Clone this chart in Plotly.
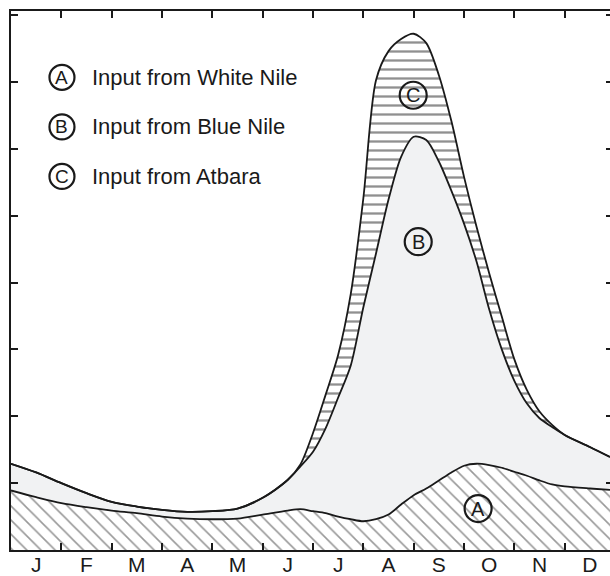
import plotly.graph_objects as go

# Month position (0 = start of January, 12 = end of December)
months = [0, 0.5, 1, 1.5, 2, 2.5, 3, 3.5, 4, 4.5, 5, 5.5, 5.75, 6, 6.25, 6.5, 6.75,
          7, 7.25, 7.5, 7.75, 8, 8.25, 8.5, 8.75, 9, 9.25, 9.5, 9.75, 10, 10.25,
          10.5, 10.75, 11, 11.5, 11.9]

# Input from White Nile (A)
white_nile = [0.89, 0.79, 0.70, 0.64, 0.59, 0.55, 0.50, 0.47, 0.46, 0.47, 0.53, 0.59,
              0.61, 0.58, 0.55, 0.50, 0.46, 0.43, 0.46, 0.53, 0.68, 0.82, 0.92, 1.04,
              1.16, 1.26, 1.29, 1.27, 1.23, 1.17, 1.11, 1.04, 0.98, 0.95, 0.92, 0.90]

# Input from Blue Nile (B)
blue_nile = [0.40, 0.37, 0.30, 0.21, 0.13, 0.10, 0.10, 0.10, 0.12, 0.15, 0.25, 0.46,
             0.64, 0.89, 1.27, 1.78, 2.30, 3.20, 3.97, 4.71, 5.20, 5.36, 5.21, 4.77,
             4.21, 3.62, 3.02, 2.33, 1.77, 1.36, 1.08, 0.93, 0.86, 0.77, 0.62, 0.49]

# Input from Atbara (C)
atbara = [0, 0, 0, 0, 0, 0, 0, 0, 0, 0, 0, 0,
          0.03, 0.28, 0.50, 0.64, 1.07, 1.63, 2.59, 2.22, 1.76, 1.54, 1.45, 1.29,
          1.04, 0.70, 0.52, 0.54, 0.49, 0.32, 0.20, 0.10, 0.03, 0, 0, 0]

month_labels = ["J", "F", "M", "A", "M", "J", "J", "A", "S", "O", "N", "D"]
label_pos = [i + 0.5 for i in range(12)]
boundaries = list(range(1, 12))
y_ticks = list(range(1, 9))

legend_items = [("A", "Input from White Nile"),
                ("B", "Input from Blue Nile"),
                ("C", "Input from Atbara")]

FONT = "Liberation Sans, Arial, sans-serif"
INK = "#1a1a1a"
LINE = dict(color=INK, width=1.8, shape="spline", smoothing=0.8)

fig = go.Figure()
fig.add_trace(go.Scatter(
    x=months, y=white_nile, stackgroup="one", mode="lines", line=LINE,
    fillcolor="white",
    fillpattern=dict(shape="\\", size=10, solidity=0.16, fgcolor="#333333",
                     bgcolor="white"),
    name="White Nile", showlegend=False))
fig.add_trace(go.Scatter(
    x=months, y=blue_nile, stackgroup="one", mode="lines", line=LINE,
    fillcolor="#f1f2f3", name="Blue Nile", showlegend=False))
fig.add_trace(go.Scatter(
    x=months, y=atbara, stackgroup="one", mode="lines", line=LINE,
    fillcolor="white",
    fillpattern=dict(shape="-", size=9, solidity=0.26, fgcolor="#222222",
                     bgcolor="white"),
    name="Atbara", showlegend=False))

fig.update_layout(
    width=610, height=576,
    margin=dict(l=11, r=0, t=11, b=22),
    paper_bgcolor="white", plot_bgcolor="white",
    font=dict(family=FONT, color=INK),
    xaxis=dict(range=[0, 11.9], tickvals=label_pos, ticktext=month_labels,
               ticks="", showgrid=False, zeroline=False, showline=False,
               tickfont=dict(size=21, family=FONT, color=INK)),
    xaxis2=dict(overlaying="x", matches="x", anchor="y", side="bottom",
                tickvals=boundaries, ticks="inside", ticklen=7, tickwidth=2,
                tickcolor=INK, showticklabels=False, showgrid=False,
                zeroline=False, showline=True, linewidth=2.2, linecolor=INK,
                mirror="ticks"),
    yaxis=dict(range=[0, 8.06], tickvals=y_ticks, ticks="inside", ticklen=7,
               tickwidth=2, tickcolor=INK, showticklabels=False,
               showgrid=False, zeroline=False, showline=True, linewidth=2.2,
               linecolor=INK),
    yaxis2=dict(overlaying="y", matches="y", side="right", anchor="x",
                tickvals=y_ticks, ticks="inside", ticklen=4, tickwidth=2,
                tickcolor=INK, showticklabels=False, showgrid=False,
                zeroline=False, showline=False),
)

# Invisible traces so the overlay axes are rendered
fig.add_trace(go.Scatter(x=[0], y=[0], xaxis="x2", yaxis="y", mode="markers",
                         marker=dict(opacity=0), hoverinfo="skip", showlegend=False))
fig.add_trace(go.Scatter(x=[0], y=[0], xaxis="x", yaxis="y2", mode="markers",
                         marker=dict(opacity=0), hoverinfo="skip", showlegend=False))

def circled(letter, x, y, xref, yref, r=13, size=19):
    fig.add_shape(type="circle", xref=xref, yref=yref, xsizemode="pixel",
                  ysizemode="pixel", xanchor=x, yanchor=y, x0=-r, x1=r, y0=-r, y1=r,
                  line=dict(color=INK, width=2.2), fillcolor="rgba(0,0,0,0)")
    fig.add_annotation(x=x, y=y, xref=xref, yref=yref, text=letter, showarrow=False,
                       font=dict(size=size, family=FONT, color=INK),
                       xanchor="center", yanchor="middle")

# Legend (top-left)
legend_y = [0.877, 0.785, 0.693]
for (letter, label), ly in zip(legend_items, legend_y):
    circled(letter, 0.0851, ly, "paper", "paper", r=12.5, size=19)
    fig.add_annotation(x=0.132, y=ly, xref="paper", yref="paper", text=label,
                       showarrow=False, xanchor="left", yanchor="middle",
                       font=dict(size=22, family=FONT, color=INK))

# Labels on the areas
circled("C", 7.99, 6.8, "x", "y", r=13.5, size=20)
circled("B", 8.09, 4.61, "x", "y", r=13.5, size=20)
circled("A", 9.28, 0.62, "x", "y", r=13.5, size=20)

fig.write_html("out.html")
